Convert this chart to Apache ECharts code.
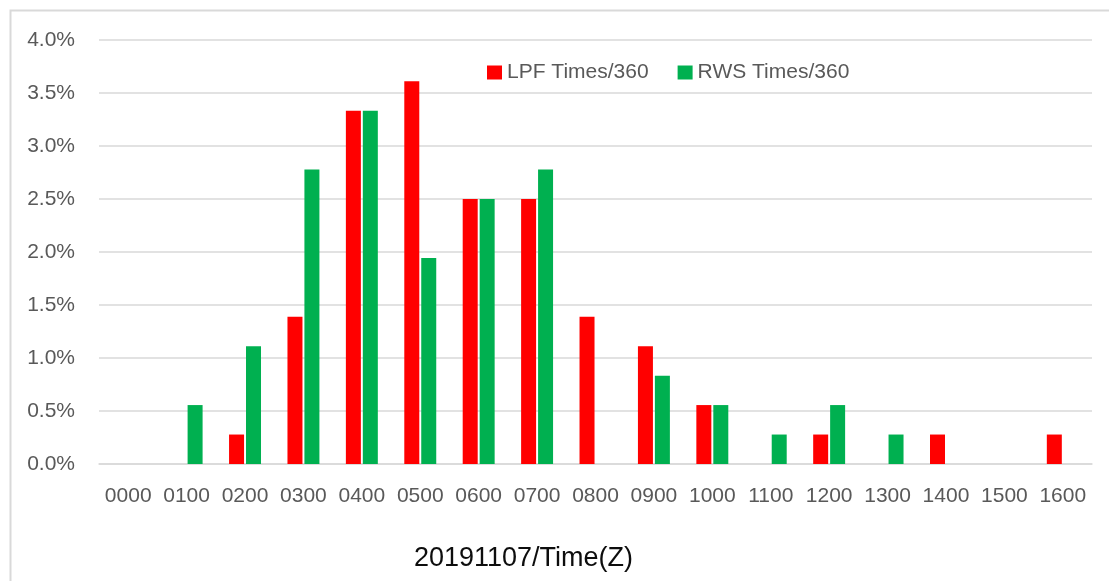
<!DOCTYPE html>
<html>
<head>
<meta charset="utf-8">
<script src="https://cdn.jsdelivr.net/npm/echarts@6/dist/echarts.min.js"></script>
<style>
  html, body { margin: 0; padding: 0; background: #fff; }
  #main { width: 1109px; height: 581px; }
</style>
</head>
<body>
<div id="main"></div>
<script>
// hours (Z) on 2019-11-07
var hours = ['0000', '0100', '0200', '0300', '0400', '0500', '0600', '0700', '0800',
    '0900', '1000', '1100', '1200', '1300', '1400', '1500', '1600'];

// share of 360 runs, in percent
var lpfTimes = [0, 0, 0.278, 1.389, 3.333, 3.611, 2.5, 2.5, 1.389,
    1.111, 0.556, 0, 0.278, 0, 0.278, 0, 0.278];
var rwsTimes = [0, 0.556, 1.111, 2.778, 3.333, 1.944, 2.5, 2.778, 0,
    0.833, 0.556, 0.278, 0.556, 0.278, 0, 0, 0];

var yTicks = [0, 0.5, 1, 1.5, 2, 2.5, 3, 3.5, 4];

var chart = echarts.init(document.getElementById('main'), null, { renderer: 'canvas' });

var fontFam = '"Liberation Sans", "DejaVu Sans", sans-serif';

var option = {
    animation: false,
    backgroundColor: '#fff',
    textStyle: { fontFamily: fontFam },
    graphic: [{
        type: 'rect',
        shape: { x: 10.5, y: 10.5, width: 1120, height: 600 },
        style: { fill: 'none', stroke: '#d9d9d9', lineWidth: 2 },
        silent: true
    }],
    legend: {
        data: ['LPF Times/360', 'RWS Times/360'],
        left: 482,
        top: 57,
        itemWidth: 15,
        itemHeight: 14,
        itemGap: 29,
        icon: 'rect',
        textStyle: { fontSize: 21, color: '#595959', fontFamily: fontFam }
    },
    grid: {
        left: 99,
        right: 17,
        top: 40,
        bottom: 117
    },
    xAxis: {
        type: 'category',
        data: hours,
        name: '20191107/Time(Z)',
        nameLocation: 'middle',
        nameGap: 81,
        nameTextStyle: { fontSize: 27, color: '#0d0d0d', fontFamily: fontFam, padding: [0, 144, 0, 0] },
        axisLine: { lineStyle: { color: '#d9d9d9', width: 1.5 } },
        axisTick: { show: false },
        axisLabel: { fontSize: 21, color: '#595959', margin: 22, interval: 0 }
    },
    yAxis: {
        type: 'value',
        min: yTicks[0],
        max: yTicks[yTicks.length - 1],
        interval: 0.5,
        axisLine: { show: false },
        axisTick: { show: false },
        splitLine: { lineStyle: { color: '#d9d9d9', width: 1.5 } },
        axisLabel: {
            fontSize: 21,
            color: '#595959',
            margin: 24,
            formatter: function (v) { return v.toFixed(1) + '%'; }
        }
    },
    series: [{
        name: 'LPF Times/360',
        type: 'bar',
        data: lpfTimes,
        barWidth: 15,
        barGap: '13%',
        itemStyle: { color: '#ff0000' }
    }, {
        name: 'RWS Times/360',
        type: 'bar',
        data: rwsTimes,
        barWidth: 15,
        itemStyle: { color: '#00b050' }
    }]
};

chart.setOption(option);
</script>
</body>
</html>
